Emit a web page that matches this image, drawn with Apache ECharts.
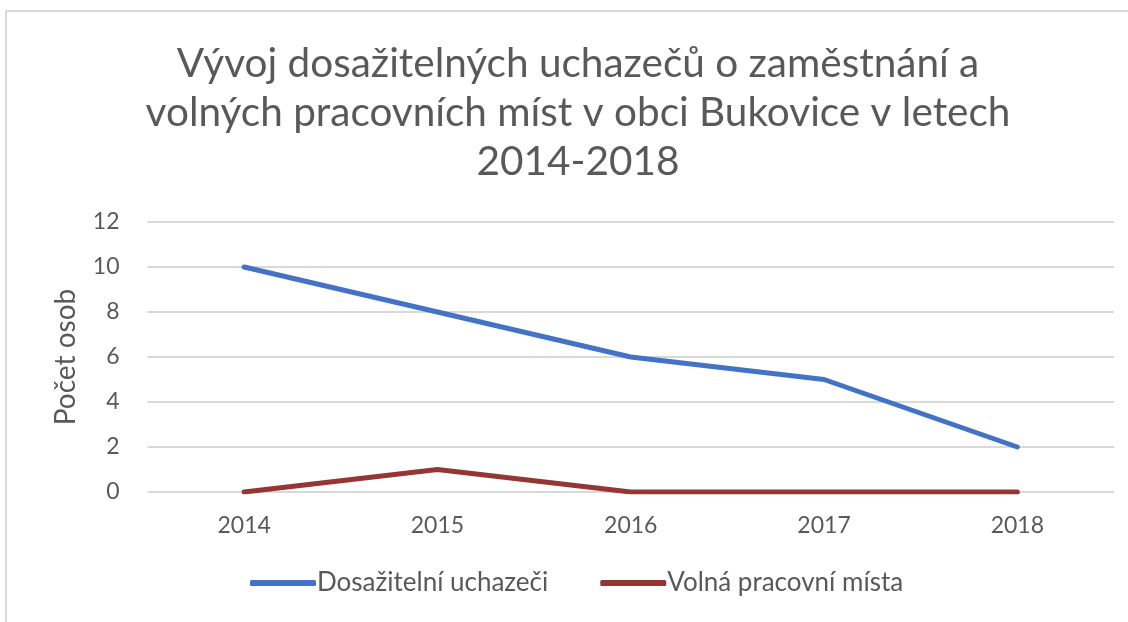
<!DOCTYPE html>
<html><head><meta charset="utf-8">
<script src="https://cdn.jsdelivr.net/npm/echarts@6/dist/echarts.min.js"></script>
<style>html,body{margin:0;padding:0;background:#fff}#c{width:1128px;height:622px}</style>
</head><body><div id="c"></div>
<script>
const categories = ['2014','2015','2016','2017','2018'];
const uchazeci = [10, 8, 6, 5, 2];
const mista = [0, 1, 0, 0, 0];
const yTicks = [0, 2, 4, 6, 8, 10, 12];
const chart = echarts.init(document.getElementById('c'));
const font = 'Lato, sans-serif';
chart.setOption({
  animation: false,
  graphic: [{type:'rect', shape:{x:6, y:11, width:1140, height:640}, style:{fill:'none', stroke:'#d9d9d9', lineWidth:2}}],
  title: {
    text: 'Vývoj dosažitelných uchazečů o zaměstnání a\nvolných pracovních míst v obci Bukovice v letech\n2014-2018',
    left: 573, textAlign: 'center', top: 34,
    textStyle: {fontFamily: font, fontSize: 40.5, fontWeight: 'normal', color: '#595959', lineHeight: 49}
  },
  grid: {left: 147.5, right: 14, top: 222, bottom: 130, containLabel: false},
  legend: {
    bottom: 21, left: 245, itemWidth: 66, itemHeight: 6, itemGap: 52,
    icon: 'roundRect',
    textStyle: {fontFamily: font, fontSize: 26, color: '#595959', padding: [0,0,0,-4]},
    data: ['Dosažitelní uchazeči', 'Volná pracovní místa']
  },
  xAxis: {
    type: 'category', data: categories, boundaryGap: true,
    axisLine: {show: false}, axisTick: {show: false},
    axisLabel: {fontFamily: font, fontSize: 23, color: '#595959', margin: 22}
  },
  yAxis: {
    type: 'value', min: yTicks[0], max: yTicks[yTicks.length-1], interval: 2,
    name: 'Počet osob', nameLocation: 'middle', nameGap: 68, nameRotate: 90,
    nameTextStyle: {fontFamily: font, fontSize: 28, color: '#595959'},
    axisLine: {show: false}, axisTick: {show: false},
    axisLabel: {fontFamily: font, fontSize: 23, color: '#595959', margin: 28},
    splitLine: {lineStyle: {color: '#d9d9d9', width: 2}}
  },
  series: [
    {name: 'Dosažitelní uchazeči', type: 'line', data: uchazeci, symbol: 'none',
     lineStyle: {color: '#4472C4', width: 5, cap: 'round'}, itemStyle: {color: '#4472C4'}},
    {name: 'Volná pracovní místa', type: 'line', data: mista, symbol: 'none',
     lineStyle: {color: '#943634', width: 5, cap: 'round'}, itemStyle: {color: '#943634'}}
  ]
});
</script></body></html>
